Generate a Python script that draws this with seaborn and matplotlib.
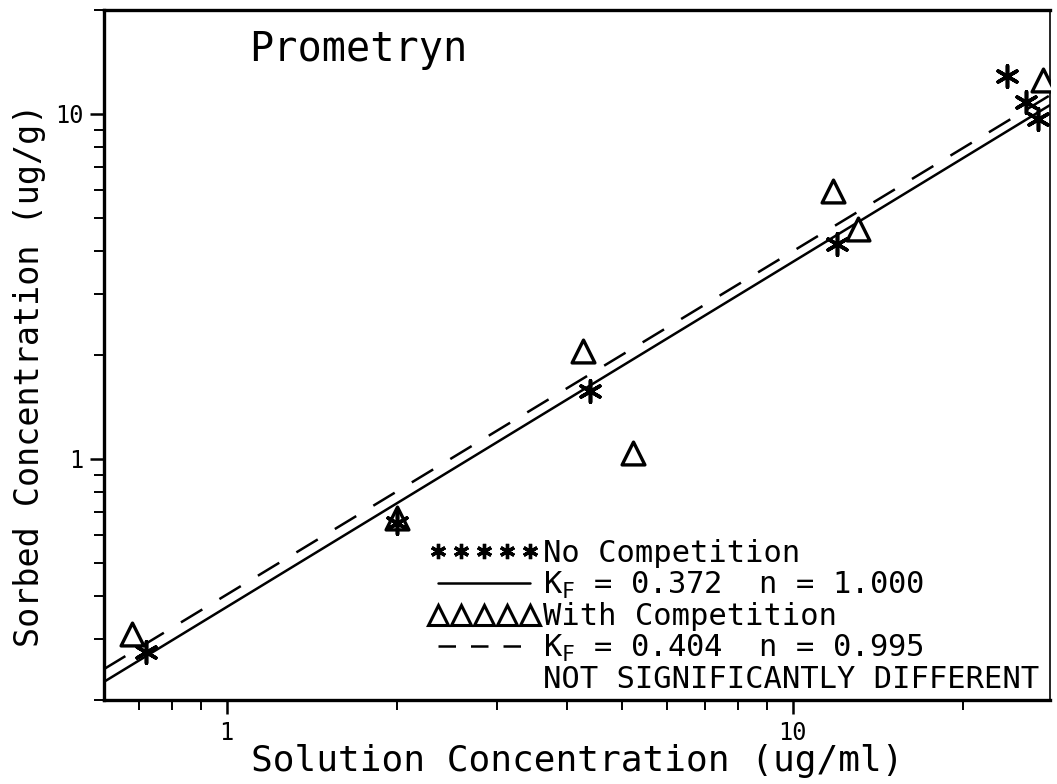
import numpy as np
import pandas as pd
import matplotlib
matplotlib.use("Agg")
import matplotlib.pyplot as plt
from matplotlib.lines import Line2D
from matplotlib.ticker import FixedLocator, FixedFormatter, NullFormatter, LogLocator
import seaborn as sns

# ---- data ----
no_comp_x = [0.72, 2.0, 4.38, 11.96, 23.9, 25.9, 27.1]
no_comp_y = [0.275, 0.652, 1.575, 4.2, 12.9, 10.8, 9.67]
with_comp_x = [0.68, 2.0, 4.26, 5.22, 11.77, 13.03, 27.7]
with_comp_y = [0.311, 0.672, 2.06, 1.04, 5.98, 4.64, 12.5]
fit_no_k, fit_no_n = 0.372, 1.000
fit_with_k, fit_with_n = 0.404, 0.995
x_ticks = [1, 10]
y_ticks = [1, 10]
x_tick_labels = ["1", "10"]
y_tick_labels = ["1", "10"]
title_text = "Prometryn"
legend_labels = ["No Competition",
                 "K$_\\mathregular{F}$ = 0.372  n = 1.000",
                 "With Competition",
                 "K$_\\mathregular{F}$ = 0.404  n = 0.995",
                 "NOT SIGNIFICANTLY DIFFERENT"]

xlim = (0.607, 28.5)
ylim = (0.2, 20.0)

sns.set_theme(style="ticks")
plt.rcParams['font.family'] = ['DejaVu Sans Mono', 'DejaVu Sans']
plt.rcParams['mathtext.fontset'] = 'custom'
plt.rcParams['mathtext.rm'] = 'DejaVu Sans Mono'

fig = plt.figure(figsize=(10.57, 7.84), dpi=100)
ax = fig.add_axes([104/1057, 1-700/784, (1050-104)/1057, (700-10)/784])
ax.set_xscale("log")
ax.set_yscale("log")
ax.set_xlim(*xlim)
ax.set_ylim(*ylim)

# fitted Freundlich lines
fit_x = np.array(xlim)
df_fit = pd.DataFrame({
    "x": np.concatenate([fit_x, fit_x]),
    "y": np.concatenate([fit_no_k * fit_x ** fit_no_n, fit_with_k * fit_x ** fit_with_n]),
    "fit": ["no"] * 2 + ["with"] * 2,
})
sns.lineplot(data=df_fit[df_fit.fit == "no"], x="x", y="y", ax=ax, color="black",
             lw=1.8, legend=False)
sns.lineplot(data=df_fit[df_fit.fit == "with"], x="x", y="y", ax=ax, color="black",
             lw=1.8, legend=False)
ax.lines[-1].set_dashes([10, 8])

asterisk = (6, 2, 0)
df_no = pd.DataFrame({"x": no_comp_x, "y": no_comp_y})
df_with = pd.DataFrame({"x": with_comp_x, "y": with_comp_y})
sns.scatterplot(data=df_with, x="x", y="y", ax=ax, marker="^", s=270,
                facecolor="white", edgecolor="black", linewidth=2.4, zorder=3)
sns.scatterplot(data=df_no, x="x", y="y", ax=ax, marker=asterisk, s=240,
                color="black", edgecolor="black", linewidth=2.6, zorder=4)

# ticks
ax.xaxis.set_major_locator(FixedLocator(x_ticks))
ax.xaxis.set_major_formatter(FixedFormatter(x_tick_labels))
ax.yaxis.set_major_locator(FixedLocator(y_ticks))
ax.yaxis.set_major_formatter(FixedFormatter(y_tick_labels))
ax.xaxis.set_minor_locator(LogLocator(base=10, subs=np.arange(2, 10)))
ax.yaxis.set_minor_locator(LogLocator(base=10, subs=np.arange(2, 10)))
ax.xaxis.set_minor_formatter(NullFormatter())
ax.yaxis.set_minor_formatter(NullFormatter())
ax.tick_params(axis="both", which="major", direction="out", length=10, width=1.8,
               labelsize=17, color="black", labelcolor="black", pad=5)
ax.tick_params(axis="both", which="minor", direction="out", length=7, width=1.4,
               color="black")

for side in ["left", "bottom", "top"]:
    ax.spines[side].set_linewidth(2.4)
    ax.spines[side].set_color("black")
ax.spines["right"].set_linewidth(1.2)
ax.spines["right"].set_color("black")

ax.set_xlabel("Solution Concentration (ug/ml)", fontsize=26, color="black")
ax.set_ylabel("Sorbed Concentration (ug/g)", fontsize=24, color="black")
ax.xaxis.set_label_coords(0.5, -(744 - 700) / 690, transform=ax.transAxes)
ax.yaxis.set_label_coords(-(104 - 30) / 946, (700 - 375) / 690, transform=ax.transAxes)
ax.xaxis.label.set_va("top")
ax.yaxis.label.set_va("center")

ax.text(0.153, 0.942, title_text, transform=ax.transAxes, fontsize=29,
        color="black", ha="left", va="center")

handles = [
    Line2D([], [], ls="none", marker=asterisk, ms=11, mew=2.4, color="black"),
    Line2D([], [], ls="-", lw=1.8, color="black"),
    Line2D([], [], ls="none", marker="^", ms=15, mew=2.2, mfc="white", mec="black"),
    Line2D([], [], ls=(0, (7, 6)), lw=1.8, color="black"),
    Line2D([], [], ls="none", color="none"),
]
leg = ax.legend(handles, legend_labels, loc="lower right", frameon=False,
                numpoints=5, fontsize=22, handlelength=3.6, handletextpad=0.15,
                labelspacing=0.05, borderaxespad=0.0, borderpad=0.0,
                bbox_to_anchor=(0.989, 0.008))
for t in leg.get_texts():
    t.set_color("black")

fig.savefig("out.png", dpi=100)
